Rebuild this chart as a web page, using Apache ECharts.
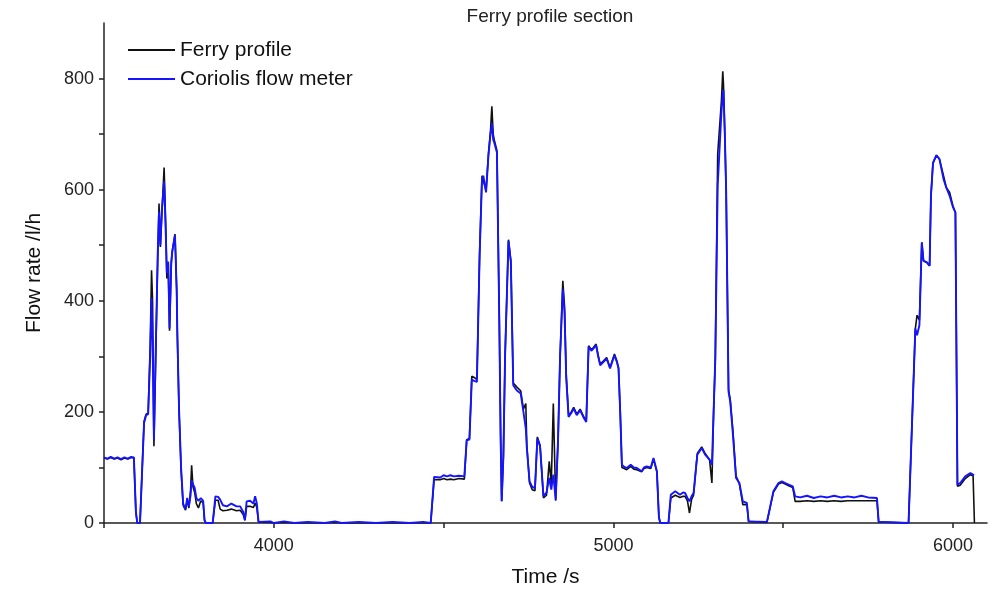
<!DOCTYPE html>
<html>
<head>
<meta charset="utf-8">
<script src="https://cdn.jsdelivr.net/npm/echarts@6/dist/echarts.min.js"></script>
<style>html,body{margin:0;padding:0;background:#fff;}#c{width:997px;height:593px;}</style>
</head>
<body>
<div id="c"></div>
<script>
// Time in seconds
const time = [
3500,3510,3520,3530,3540,3550,3560,3570,3580,3588,3594,3598,3606,3618,3624,3630,3636,3640,3643,3647,
3652,3658,3662,3666,3670,3677,3682,3685,3689,3693,3698,3701,3709,3714,3716,3721,3727,3733,3740,3745,
3750,3755,3758,3762,3767,3772,3778,3785,3792,3796,3800,3820,3828,3836,3842,3850,3862,3875,3890,3901,
3910,3915,3920,3930,3940,3945,3950,3955,3960,3990,4000,4030,4060,4100,4150,4180,4200,4250,4300,4350,
4400,4440,4462,4472,4490,4500,4510,4520,4530,4545,4561,4568,4576,4583,4590,4598,4606,4613,4617,4625,
4632,4638,4642,4646,4649,4657,4664,4668,4671,4676,4681,4691,4698,4705,4715,4727,4735,4742,4745,4753,
4761,4769,4776,4784,4794,4803,4811,4817,4823,4830,4837,4843,4851,4856,4861,4868,4876,4883,4892,4902,
4912,4920,4927,4935,4941,4949,4955,4961,4971,4980,4990,5003,5010,5015,5020,5025,5032,5039,5051,5060,
5069,5083,5090,5098,5110,5118,5128,5134,5138,5162,5169,5182,5196,5205,5211,5218,5224,5230,5236,5247,
5260,5270,5283,5290,5295,5300,5307,5312,5318,5322,5324,5328,5332,5339,5344,5352,5361,5371,5381,5393,
5398,5402,5452,5457,5471,5486,5496,5506,5516,5528,5535,5550,5570,5590,5610,5630,5650,5670,5690,5710,
5730,5750,5776,5781,5785,5869,5889,5894,5901,5908,5913,5923,5931,5935,5941,5951,5960,5972,5980,5990,
6000,6007,6013,6021,6036,6051,6059,6062,6063
];
// Coriolis flow meter, l/h
const coriolis = [
118,116,119,116,118,115,118,116,119,118,20,0,0,180,194,196,300,405,330,150,
300,480,560,500,560,615,520,450,470,350,470,488,518,420,340,205,100,35,25,45,
30,50,77,70,63,45,40,45,40,5,0,0,48,47,42,32,30,35,30,30,
20,5,39,40,35,48,35,2,0,3,0,3,0,2,0,3,0,2,0,2,
0,2,0,83,82,86,84,86,84,85,84,149,150,258,256,254,481,619,625,595,
661,700,720,690,685,667,362,150,39,120,302,508,469,248,239,233,200,170,135,75,
65,63,152,138,48,55,81,60,87,42,150,302,421,380,260,191,198,206,194,203,
190,182,317,310,314,320,300,284,290,296,278,302,290,278,200,105,101,99,105,100,
99,93,100,102,100,117,93,10,0,0,51,57,51,55,54,45,39,48,54,123,
135,123,114,105,200,296,607,667,740,770,780,700,595,236,218,158,81,72,39,36,
3,0,2,0,57,72,75,72,69,66,48,46,49,45,48,46,49,46,48,46,
49,46,45,2,0,0,350,338,356,505,472,469,463,589,648,662,655,619,604,589,
568,559,69,72,84,90,87,86,null
];
// Ferry profile, l/h
const ferry = [
117,115,118,115,117,114,117,115,118,117,18,0,0,183,196,198,320,455,400,138,
290,470,575,497,550,640,530,440,470,346,465,490,520,420,337,201,95,32,23,41,
27,60,104,65,55,35,27,40,36,5,0,0,41,41,25,22,23,25,22,23,
15,5,30,30,28,36,28,2,0,1,0,1,0,0,0,1,0,0,0,0,
0,0,0,78,78,80,78,79,78,80,79,150,152,264,262,258,485,625,628,598,
665,705,750,700,690,670,365,150,39,120,300,510,472,252,245,238,205,215,140,72,
60,58,155,140,45,50,111,70,215,40,150,300,436,390,268,193,200,208,196,205,
192,184,319,312,316,322,302,286,292,298,280,304,292,280,200,100,98,96,102,97,
96,92,98,100,98,115,92,10,0,0,45,50,46,48,48,40,18,42,50,125,
137,125,114,72,200,296,664,667,760,813,790,700,595,240,222,165,85,70,33,33,
3,0,1,0,55,70,73,70,67,64,39,39,40,39,40,39,40,39,40,40,
40,40,40,2,0,0,350,374,365,505,472,469,463,589,648,662,655,625,604,595,
570,559,66,68,80,87,85,85,0
];
// Axis ticks
const xTicks = [4000, 5000, 6000];
const yTicks = [0, 200, 400, 600, 800];

const ferryData = time.map((t, i) => [t, ferry[i]]);
const corData = time.map((t, i) => [t, coriolis[i]]);

const FONT = '"Liberation Sans", Arial, sans-serif';
const chart = echarts.init(document.getElementById('c'), null, {renderer: 'canvas'});
chart.setOption({
  animation: false,
  backgroundColor: '#fff',
  title: {
    text: 'Ferry profile section',
    left: 545, top: 2, textAlign: 'center',
    textStyle: {fontFamily: FONT, fontSize: 19, fontWeight: 'normal', color: '#222'}
  },
  legend: {
    left: 123, top: 34, orient: 'vertical',
    icon: 'rect', itemWidth: 47, itemHeight: 2, itemGap: 7,
    textStyle: {fontFamily: FONT, fontSize: 21, lineHeight: 22, color: '#111'},
    data: ['Ferry profile', 'Coriolis flow meter']
  },
  grid: {left: 104, right: 10, top: 23, bottom: 68, containLabel: false},
  xAxis: {
    type: 'value', min: 3500, max: 6100, interval: 500,
    name: 'Time /s', nameLocation: 'middle', nameGap: 44,
    nameTextStyle: {fontFamily: FONT, fontSize: 21, color: '#111'},
    axisLine: {show: true, onZero: false, lineStyle: {color: '#222', width: 1.5}},
    axisTick: {show: true, inside: false, length: 5, lineStyle: {color: '#222', width: 1.5}},
    axisLabel: {
      fontFamily: FONT, fontSize: 18, color: '#222', margin: 14,
      showMaxLabel: false,
      formatter: v => xTicks.includes(v) ? String(v) : ''
    },
    splitLine: {show: false}
  },
  yAxis: {
    type: 'value', min: 0, max: 900, interval: 100,
    name: 'Flow rate /l/h', nameLocation: 'middle', nameGap: 59,
    nameTextStyle: {fontFamily: FONT, fontSize: 21, color: '#111'},
    axisLine: {show: true, lineStyle: {color: '#222', width: 1.5}},
    axisTick: {show: true, inside: false, length: 5, lineStyle: {color: '#222', width: 1.5}},
    axisLabel: {
      fontFamily: FONT, fontSize: 18, color: '#222', margin: 10,
      showMaxLabel: false,
      formatter: v => yTicks.includes(v) ? String(v) : ''
    },
    splitLine: {show: false}
  },
  series: [
    {name: 'Ferry profile', type: 'line', data: ferryData, symbol: 'none',
     lineStyle: {color: '#111', width: 1.6}, itemStyle: {color: '#111'}, z: 2},
    {name: 'Coriolis flow meter', type: 'line', data: corData, symbol: 'none', connectNulls: false,
     lineStyle: {color: '#1414ff', width: 1.9}, itemStyle: {color: '#1414ff'}, z: 3}
  ]
});
</script>
</body>
</html>
